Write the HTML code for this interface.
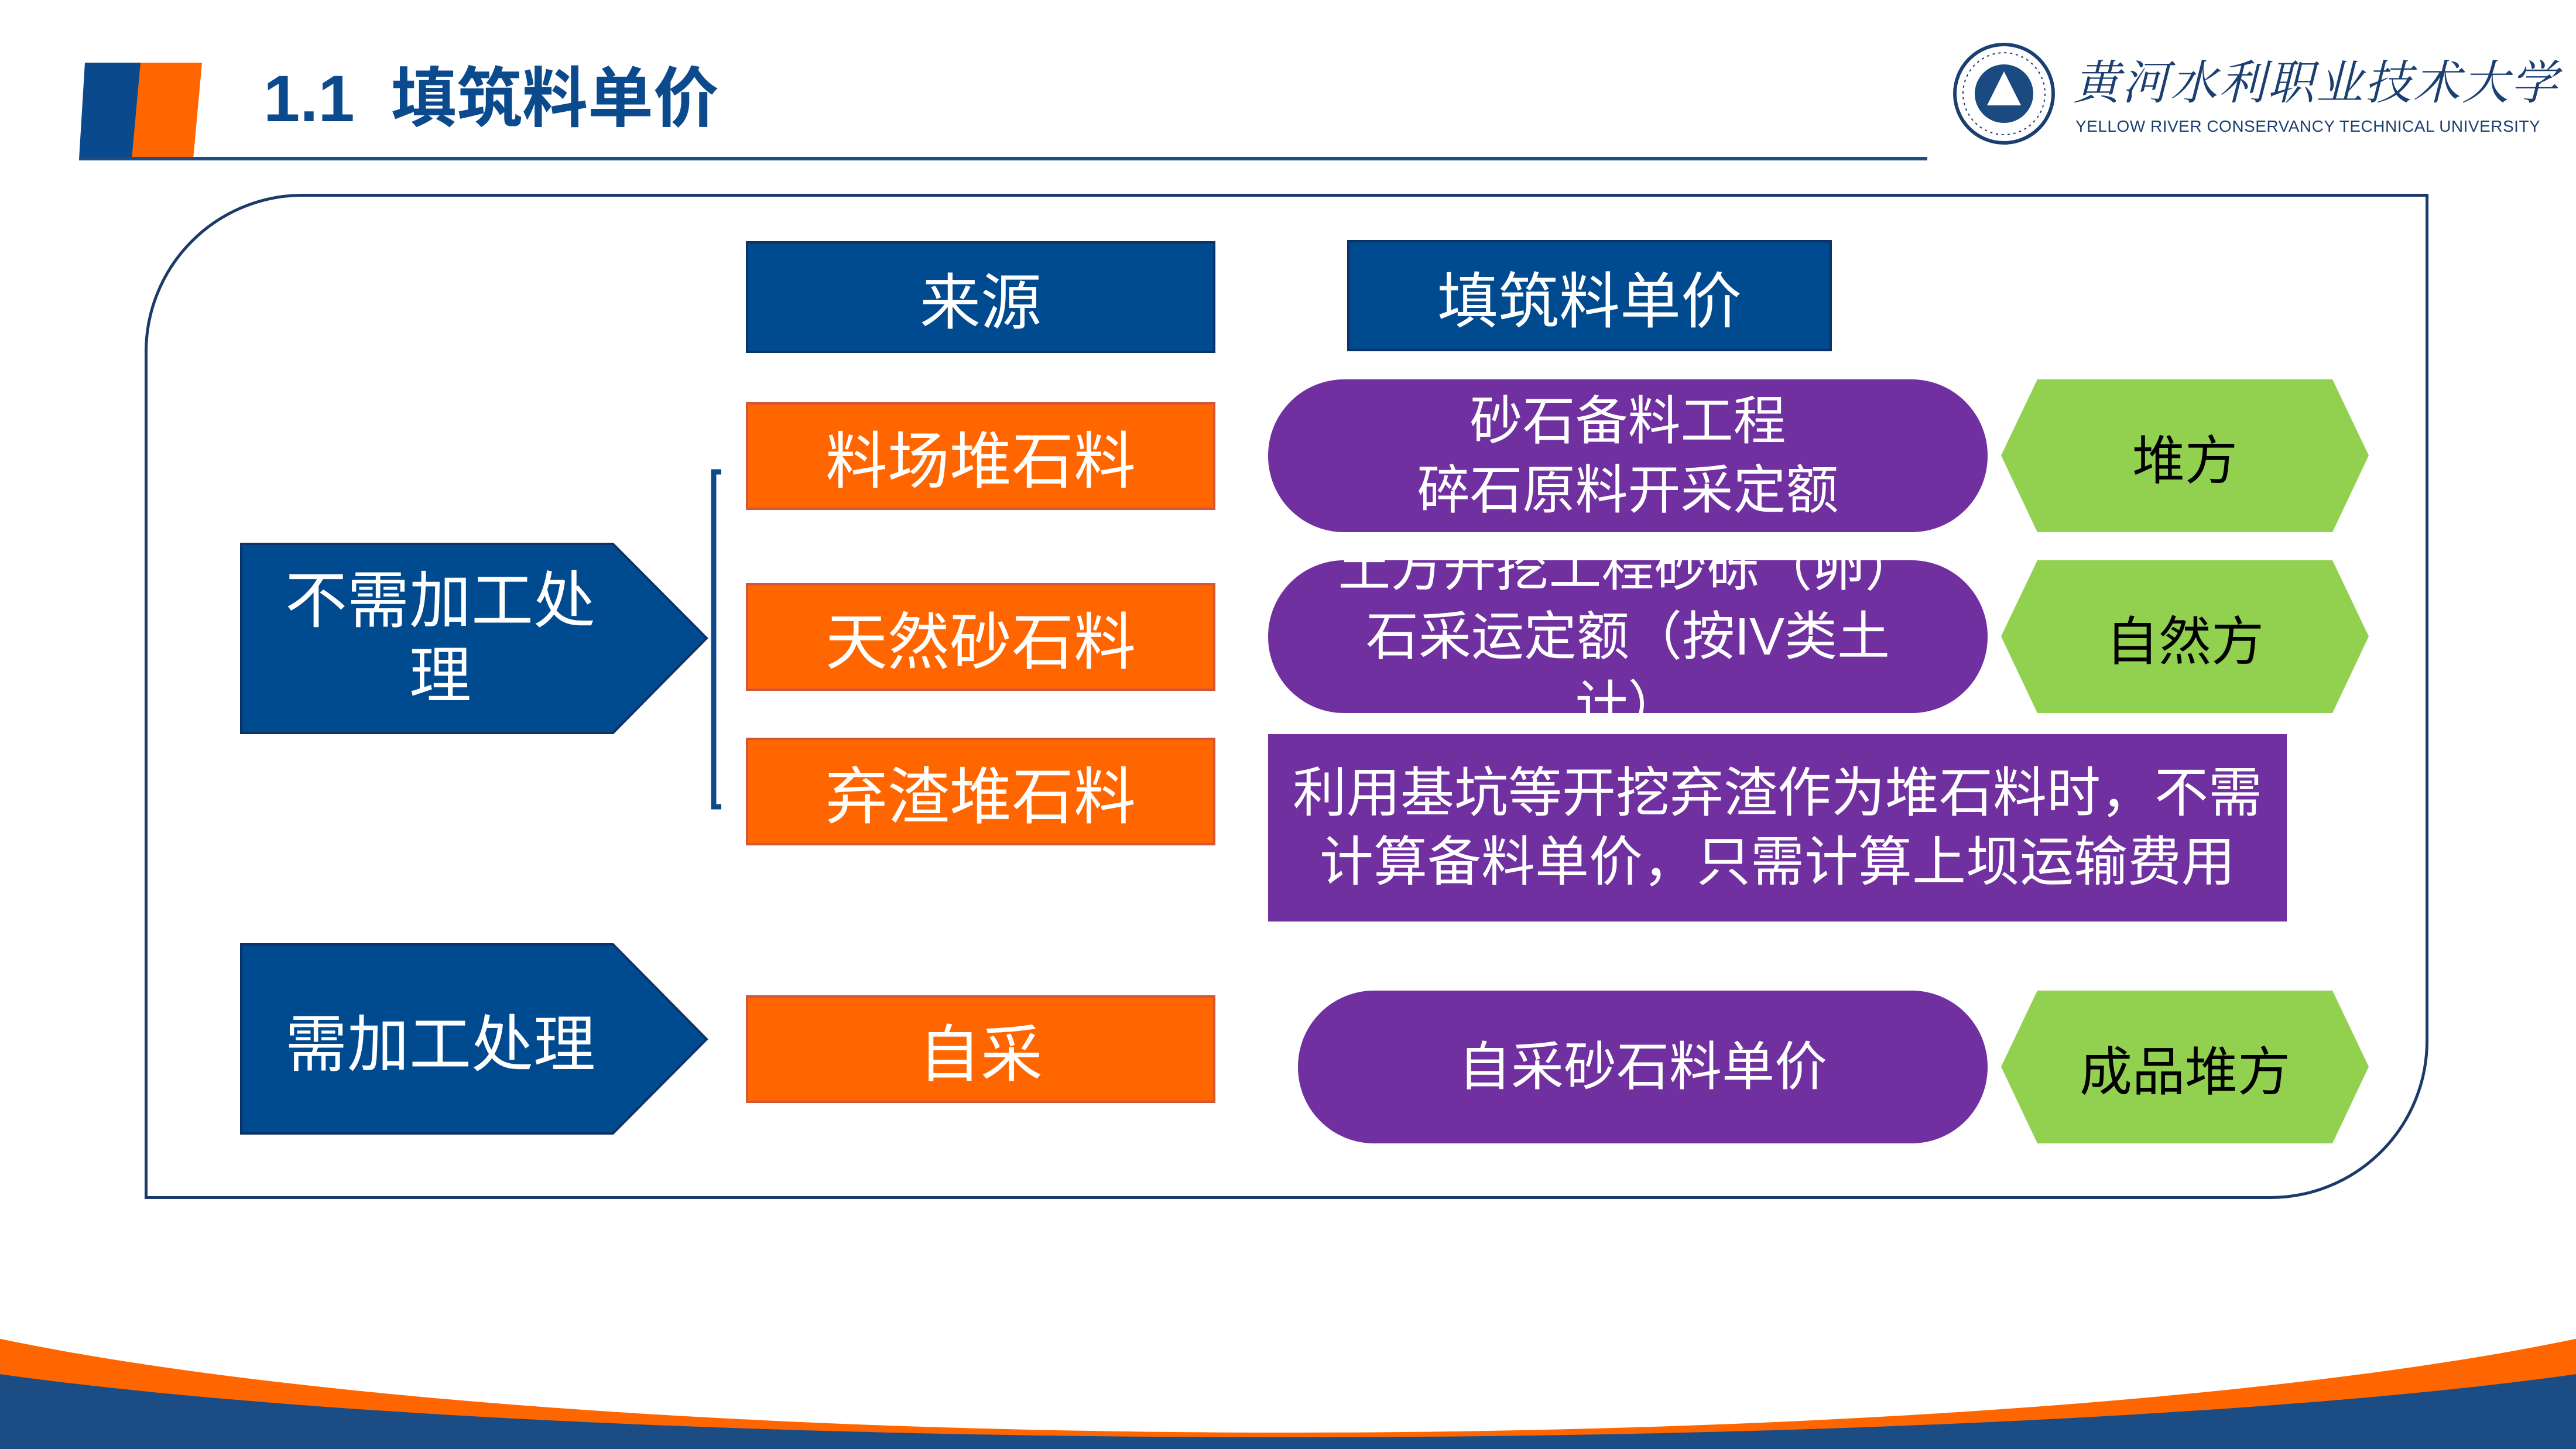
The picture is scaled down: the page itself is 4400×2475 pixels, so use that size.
<!DOCTYPE html>
<html><head><meta charset="utf-8"><style>
*{margin:0;padding:0;box-sizing:border-box}
body{width:4400px;height:2475px;position:relative;background:#fff;overflow:hidden;font-family:"Liberation Sans","Noto Sans CJK SC",sans-serif}
.a{position:absolute}
.box{position:absolute;display:flex;align-items:center;justify-content:center;text-align:center;color:#fff;overflow:hidden}
.hdr{background:#004a8f;border:4px solid #0d3366;font-size:104px}
.org{background:#ff6600;border:4px solid #d0573a;font-size:106px;left:1274px;width:802px;height:184px}
.pur{background:#7030a0;font-size:90px;line-height:118px;border-radius:130px/130px}
.grn{color:#000;font-size:90px}
</style></head><body>
<svg class="a" style="left:0;top:2100px" width="4400" height="375" viewBox="0 2100 4400 375">
<rect x="0" y="2287" width="4400" height="200" fill="#1c4c84"/>
<ellipse cx="2200" cy="2224" rx="2600" ry="231" fill="#ff6600"/>
<ellipse cx="2200" cy="2104" rx="2600" ry="343" fill="#fff"/>
</svg>
<svg class="a" style="left:0;top:0" width="4400" height="300">
<polygon points="145,107 255,107 237,272 135,272" fill="#0a4a8c"/>
<polygon points="240,107 345,107 330,272 225,272" fill="#ff6600"/>
<rect x="135" y="268" width="3157" height="6" fill="#1e4c84"/>
<circle cx="3423" cy="160" r="84" fill="#fff" stroke="#1a3f70" stroke-width="6"/>
<circle cx="3423" cy="160" r="70" fill="none" stroke="#1a3f70" stroke-width="2" stroke-dasharray="4 6"/>
<circle cx="3423" cy="160" r="50" fill="#1a4a80"/>
<polygon points="3423,122 3452,180 3394,180" fill="#fff"/>
</svg>
<div class="a" style="left:450px;top:113px;font-size:112px;font-weight:bold;color:#0b4a8c;line-height:1;white-space:nowrap">1.1&nbsp; 填筑料单价</div>
<div class="a" style="left:3541px;top:95px;font-size:80px;color:#1a3f70;font-family:'Noto Serif CJK SC',serif;letter-spacing:3px;white-space:nowrap;line-height:1;font-style:italic">黄河水利职业技术大学</div>
<div class="a" style="left:3545px;top:202px;font-size:28px;color:#1a3f70;white-space:nowrap;line-height:1;letter-spacing:0.5px">YELLOW RIVER CONSERVANCY TECHNICAL UNIVERSITY</div>

<div class="a" style="left:247px;top:331px;width:3901px;height:1717px;border:5px solid #1a3a6a;border-radius:270px 0 270px 0"></div>

<div class="box hdr" style="left:1274px;top:412px;width:802px;height:191px">来源</div>
<div class="box hdr" style="left:2301px;top:410px;width:828px;height:190px">填筑料单价</div>

<div class="box org" style="top:687px">料场堆石料</div>
<div class="box org" style="top:996px">天然砂石料</div>
<div class="box org" style="top:1260px">弃渣堆石料</div>
<div class="box org" style="top:1700px">自采</div>

<svg class="a" style="left:0;top:0" width="4400" height="2100">
<polygon points="412,929 1047,929 1207,1090 1047,1252 412,1252" fill="#004a8f" stroke="#0d3366" stroke-width="4"/>
<polygon points="412,1613 1047,1613 1207,1775 1047,1936 412,1936" fill="#004a8f" stroke="#0d3366" stroke-width="4"/>
<path d="M1232,806 L1219,806 L1219,1378 L1232,1378" fill="none" stroke="#0d4a8c" stroke-width="9"/>
<polygon points="3480,648 3984,648 4046,778 3984,909 3480,909 3418,778" fill="#92d050"/>
<polygon points="3480,957 3984,957 4046,1087 3984,1218 3480,1218 3418,1087" fill="#92d050"/>
<polygon points="3480,1692 3984,1692 4046,1822 3984,1953 3480,1953 3418,1822" fill="#92d050"/>
</svg>
<div class="box" style="left:412px;top:929px;width:680px;height:323px;font-size:106px;line-height:128px">不需加工处<br>理</div>
<div class="box" style="left:412px;top:1613px;width:680px;height:323px;font-size:106px">需加工处理</div>

<div class="box pur" style="left:2166px;top:648px;width:1229px;height:261px">砂石备料工程<br>碎石原料开采定额</div>
<div class="box pur" style="left:2166px;top:957px;width:1229px;height:261px">土方开挖工程砂砾（卵）<br>石采运定额（按IV类土<br>计）</div>
<div class="box" style="left:2166px;top:1254px;width:1740px;height:320px;background:#7030a0;font-size:92px;line-height:118px">利用基坑等开挖弃渣作为堆石料时，不需<br>计算备料单价，只需计算上坝运输费用</div>
<div class="box pur" style="left:2217px;top:1692px;width:1178px;height:261px">自采砂石料单价</div>

<div class="box grn" style="left:3418px;top:648px;width:628px;height:261px">堆方</div>
<div class="box grn" style="left:3418px;top:957px;width:628px;height:261px">自然方</div>
<div class="box grn" style="left:3418px;top:1692px;width:628px;height:261px">成品堆方</div>
</body></html>
